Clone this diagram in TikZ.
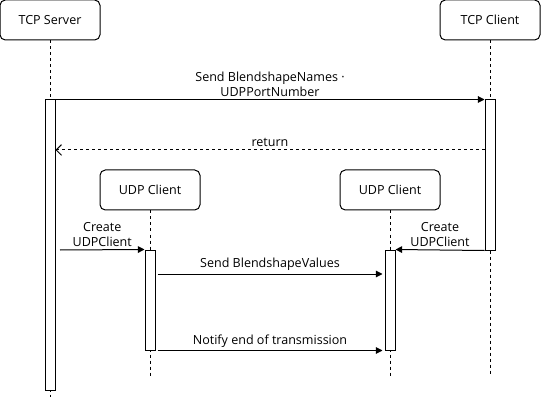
\documentclass[tikz,border=0pt]{standalone}
\usepackage{fontspec}
\setmainfont{Open Sans}
\usetikzlibrary{arrows.meta, positioning}

\begin{document}
\begin{tikzpicture}[x=0.75pt, y=-0.75pt, line width=0.75pt, font=\fontsize{9.4}{11.2}\selectfont,
        actor/.style={draw, rounded corners=4pt, minimum width=75pt, minimum height=30pt},
        bar/.style={draw, fill=white, minimum width=7.5pt, inner sep=0pt},
        life/.style={dash pattern=on 2.25pt off 2.25pt},
        msg/.style={-{Triangle[length=5pt, width=5pt]}},
        msglabel/.style={midway, above, align=center, inner sep=2pt}]
    \useasboundingbox (0,0) rectangle (541,402);
    % participants
    \node[actor] (server) at (50,20) {TCP Server};
    \node[actor] (client) at (490,20) {TCP Client};
    \node[actor] (udpa) at (150,190) {UDP Client};
    \node[actor] (udpb) at (390,190) {UDP Client};
    % lifelines
    \coordinate (serverend) at (50,397);
    \coordinate (clientend) at (490,375);
    \coordinate (udpaend) at (150,377);
    \coordinate (udpbend) at (390,377);
    \draw[life] (server.south) -- (serverend);
    \draw[life] (client.south) -- (clientend);
    \draw[life] (udpa.south) -- (udpaend);
    \draw[life] (udpb.south) -- (udpbend);
    % activations
    \node[bar, minimum height=217.5pt] (serverbar) at (50,245) {};
    \node[bar, minimum height=112.5pt] (clientbar) at (490,175) {};
    \node[bar, minimum height=75pt] (udpabar) at (150,300) {};
    \node[bar, minimum height=75pt] (udpbbar) at (390,300) {};
    % messages
    \draw[msg] (serverbar.north east) -- node[msglabel] {Send BlendshapeNames ·\\UDPPortNumber} (clientbar.north west);
    \draw[life, -{Straight Barb[length=4pt, width=8pt]}] (clientbar.west |- 0,150) -- node[msglabel] {return} (serverbar.east |- 0,150);
    \coordinate (createfrom) at (60,250);
    \draw[msg] (createfrom) -- node[msglabel] {Create\\UDPClient} (udpabar.north west);
    \draw[msg] (clientbar.south west) -- node[msglabel] {Create\\UDPClient} (udpbbar.north east);
    \draw[msg, shorten <=1.5pt, shorten >=1.5pt] (udpabar.east |- 0,274) -- node[msglabel] {Send BlendshapeValues} (udpbbar.west |- 0,274);
    \draw[msg, shorten <=1.5pt, shorten >=1.5pt] (udpabar.south east) -- node[msglabel] {Notify end of transmission} (udpbbar.south west);
\end{tikzpicture}
\end{document}
